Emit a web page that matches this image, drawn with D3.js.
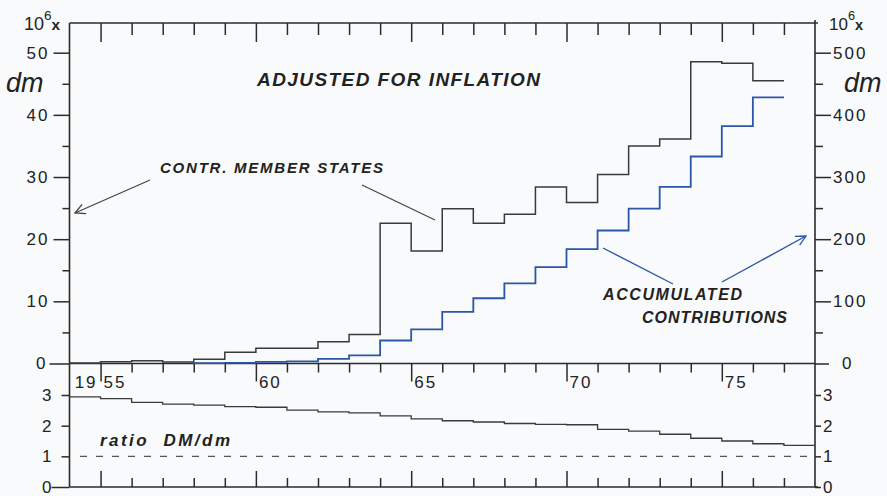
<!DOCTYPE html>
<html><head><meta charset="utf-8">
<script src="https://cdn.jsdelivr.net/npm/d3@7"></script>
<style>
html,body{margin:0;padding:0;background:#f9fafb;}
svg{display:block;font-family:"Liberation Sans",Arial,Helvetica,sans-serif;}
</style>
</head><body>
<svg id="chart" width="887" height="496"></svg>
<script>
// ---------------- DATA ----------------
// Contributions of member states (10^6 dm, left scale), step per year
const contrYears = [1954,1955,1956,1957,1958,1959,1960,1961,1962,1963,1964,1965,1966,1967,1968,1969,1970,1971,1972,1973,1974,1975,1976];
const contributions = [0.1,0.3,0.45,0.25,0.7,1.8,2.45,2.45,3.5,4.65,22.55,18.1,24.9,22.55,24.0,28.4,25.9,30.4,35.0,36.1,48.55,48.3,45.5];
// Accumulated contributions (10^6 dm, right scale)
const accumYears = [1958,1959,1960,1961,1962,1963,1964,1965,1966,1967,1968,1969,1970,1971,1972,1973,1974,1975,1976];
const accumulated = [0.5,1,2.5,3.5,7.5,13,37,55,83,105,129,155,184,214,249,284,333,382,428];
// Ratio DM/dm (bottom panel)
const ratioYears = [1954,1955,1956,1957,1958,1959,1960,1961,1962,1963,1964,1965,1966,1967,1968,1969,1970,1971,1972,1973,1974,1975,1976,1977];
const ratio = [2.94,2.88,2.76,2.70,2.67,2.62,2.60,2.51,2.45,2.42,2.32,2.22,2.16,2.12,2.07,2.04,2.03,1.88,1.82,1.72,1.59,1.50,1.41,1.36];
// Ticks and labels
const leftMajor = [0,10,20,30,40,50];
const leftMinor = [5,15,25,35,45];
const rightMajor = [0,100,200,300,400,500];
const rightMinor = [50,150,250,350,450];
const ratioTickVals = [0,1,2,3];
const yearTicks = [1955,1956,1957,1958,1959,1960,1961,1962,1963,1964,1965,1966,1967,1968,1969,1970,1971,1972,1973,1974,1975,1976,1977];
const yearMajor = [1955,1960,1965,1970,1975];
const yearLabels = ["55","60","65","70","75"];
const refLine = [1];

// ---------------- LAYOUT ----------------
const svg = d3.select("#chart");
const X0 = 69.5, X1 = 815, TOP = 23, ZERO = 363.5, BOT = 487;
const INK = "#2b2b2b", LINE = "#3a3a3a", BLUE = "#2a57a8";

const x = d3.scaleLinear().domain([1954, 1978]).range([X0, X1]);
const yL = d3.scaleLinear().domain([0, 50]).range([ZERO, 52.7]);
const yR = d3.scaleLinear().domain([0, 500]).range([ZERO, 52.7]);
const yB = d3.scaleLinear().domain([0, 3]).range([BOT, 395]);

svg.append("rect").attr("width",887).attr("height",496).attr("fill","#f9fafb");

const defs = svg.append("defs");
function marker(id, color){
  defs.append("marker").attr("id", id).attr("viewBox","0 0 12 12").attr("refX",11).attr("refY",6)
    .attr("markerWidth",12).attr("markerHeight",12).attr("markerUnits","userSpaceOnUse").attr("orient","auto")
    .append("path").attr("d","M1,1 L11,6 L1,11").attr("fill","none").attr("stroke",color).attr("stroke-width",1.3);
}
marker("arrBlack", "#444");
marker("arrBlue", BLUE);

// frame lines
const frame = svg.append("g").attr("stroke", INK).attr("stroke-width", 1.6).attr("fill","none");
frame.append("line").attr("x1",X0).attr("x2",X1+3).attr("y1",TOP).attr("y2",TOP);
frame.append("line").attr("x1",X0).attr("x2",X0).attr("y1",TOP).attr("y2",BOT);
frame.append("line").attr("x1",X1).attr("x2",X1).attr("y1",TOP-3).attr("y2",BOT);
frame.append("line").attr("x1",X0).attr("x2",X1+3).attr("y1",BOT).attr("y2",BOT);

function styleAxis(g, fs){
  g.select(".domain").remove();
  g.selectAll(".tick line").attr("stroke", INK).attr("stroke-width", 1.5);
  g.selectAll(".tick text").attr("fill", "#222").attr("font-size", fs).attr("letter-spacing", "2px")
    .attr("font-family", "'Liberation Sans', Arial, sans-serif");
}
const fmtInt = d3.format("d");

// left upper axis
let g = svg.append("g").attr("transform", `translate(${X0},0)`)
  .call(d3.axisLeft(yL).tickValues(leftMajor).tickSize(16).tickPadding(4).tickFormat(fmtInt));
styleAxis(g, 17);
g.selectAll(".tick").filter(d => d === 0).select("line").attr("x2", -20);
g.selectAll(".tick").filter(d => d === 0).select("text").attr("x", -22);
g = svg.append("g").attr("transform", `translate(${X0},0)`)
  .call(d3.axisLeft(yL).tickValues(leftMinor).tickSize(7).tickFormat(""));
styleAxis(g, 17);

// right upper axis
g = svg.append("g").attr("transform", `translate(${X1},0)`)
  .call(d3.axisRight(yR).tickValues(rightMajor).tickSize(16).tickPadding(2).tickFormat(fmtInt));
styleAxis(g, 17);
g.selectAll(".tick").filter(d => d === 0).select("line").attr("x2", 14);
g.selectAll(".tick").filter(d => d === 0).select("text").attr("x", 27);
g = svg.append("g").attr("transform", `translate(${X1},0)`)
  .call(d3.axisRight(yR).tickValues(rightMinor).tickSize(8).tickFormat(""));
styleAxis(g, 17);

// bottom panel y axes
g = svg.append("g").attr("transform", `translate(${X0},0)`)
  .call(d3.axisLeft(yB).tickValues(ratioTickVals).tickSize(8).tickPadding(8).tickFormat(fmtInt));
styleAxis(g, 17);
g.selectAll(".tick").filter(d => d === 0).select("line").attr("x2", -18);
g = svg.append("g").attr("transform", `translate(${X1},0)`)
  .call(d3.axisRight(yB).tickValues(ratioTickVals).tickSize(6).tickPadding(2).tickFormat(fmtInt));
styleAxis(g, 17);

// zero line of the upper panel
svg.append("line").attr("x1",X0).attr("x2",X1).attr("y1",ZERO).attr("y2",ZERO)
  .attr("stroke",INK).attr("stroke-width",1.6);

// year ticks
function yearAxis(y, axisFn, minorLen, majorLen){
  const gg = svg.append("g").attr("transform", `translate(0,${y})`)
    .call(axisFn(x).tickValues(yearTicks).tickSize(minorLen).tickFormat(""));
  styleAxis(gg, 17);
  gg.selectAll(".tick").filter(d => yearMajor.includes(d)).select("line")
    .attr("y2", axisFn === d3.axisTop ? -majorLen : majorLen);
}
yearAxis(TOP, d3.axisBottom, 12, 19);
yearAxis(ZERO, d3.axisBottom, 9, 18);
yearAxis(BOT, d3.axisTop, 9, 16);

// year labels
const lab = svg.append("g").attr("fill","#222").attr("font-size",17).attr("letter-spacing","2px");
yearMajor.forEach((yr, i) => {
  lab.append("text").attr("x", x(yr) + 3).attr("y", 388).text(yearLabels[i]);
});
lab.append("text").attr("x", x(1955) - 3).attr("y", 388).attr("text-anchor","end").text("19");

// dashed ratio = 1 line
svg.append("g").selectAll("line").data(refLine).join("line")
  .attr("x1", 80).attr("x2", X1).attr("y1", d => yB(d)).attr("y2", d => yB(d))
  .attr("stroke", "#555").attr("stroke-width", 1.1).attr("stroke-dasharray", "7,9");

// step lines
function stepData(ys, vs){
  const pts = ys.map((yr, i) => ({yr, v: vs[i]}));
  pts.push({yr: ys[ys.length-1] + 1, v: vs[vs.length-1]});
  return pts;
}
const stepL = d3.line().curve(d3.curveStepAfter).x(d => x(d.yr)).y(d => yL(d.v));
const stepR = d3.line().curve(d3.curveStepAfter).x(d => x(d.yr)).y(d => yR(d.v));
const stepB = d3.line().curve(d3.curveStepAfter).x(d => x(d.yr)).y(d => yB(d.v));

svg.append("path").attr("d", stepR(stepData(accumYears, accumulated)))
  .attr("fill","none").attr("stroke",BLUE).attr("stroke-width",1.8);
svg.append("path").attr("d", stepL(stepData(contrYears, contributions)))
  .attr("fill","none").attr("stroke",LINE).attr("stroke-width",1.5);
svg.append("path").attr("d", stepB(stepData(ratioYears, ratio)))
  .attr("fill","none").attr("stroke",LINE).attr("stroke-width",1.3);

// ---------------- TEXT ----------------
const ann = svg.append("g").attr("fill","#222").attr("font-style","italic").attr("font-weight","bold");
ann.append("text").attr("x",257).attr("y",86).attr("font-size",19)
  .attr("textLength",283).attr("lengthAdjust","spacing").text("ADJUSTED FOR INFLATION");
ann.append("text").attr("x",160).attr("y",173).attr("font-size",15)
  .attr("textLength",223).attr("lengthAdjust","spacing").text("CONTR. MEMBER STATES");
ann.append("text").attr("x",603).attr("y",300).attr("font-size",16)
  .attr("textLength",139).attr("lengthAdjust","spacing").text("ACCUMULATED");
ann.append("text").attr("x",642).attr("y",323).attr("font-size",16)
  .attr("textLength",145).attr("lengthAdjust","spacing").text("CONTRIBUTIONS");
ann.append("text").attr("x",100).attr("y",446).attr("font-size",17).attr("font-weight","bold")
  .attr("textLength",130).attr("lengthAdjust","spacing").text("ratio\u00a0\u00a0DM/dm");

// units
const units = svg.append("g").attr("fill","#222");
units.append("text").attr("x",6).attr("y",92).attr("font-size",27).attr("font-style","italic").text("dm");
units.append("text").attr("x",844).attr("y",92).attr("font-size",27).attr("font-style","italic").text("dm");
function tenSix(xp, fs){
  const t = units.append("text").attr("x", xp).attr("y", 30).attr("font-size", fs);
  t.append("tspan").text("10");
  t.append("tspan").attr("dy", -10).attr("font-size", fs*0.75).text("6");
  t.append("tspan").attr("dy", 10).attr("font-weight","bold").attr("font-size", fs*0.85).text("x");
}
tenSix(24, 18);
tenSix(829, 17);

// annotation lines / arrows
const arr = svg.append("g").attr("fill","none");
arr.append("line").attr("x1",150).attr("y1",180).attr("x2",75).attr("y2",213)
  .attr("stroke","#444").attr("stroke-width",1.2).attr("marker-end","url(#arrBlack)");
arr.append("line").attr("x1",362).attr("y1",185).attr("x2",435).attr("y2",220)
  .attr("stroke","#444").attr("stroke-width",1.2);
arr.append("line").attr("x1",603).attr("y1",248).attr("x2",673).attr("y2",284)
  .attr("stroke",BLUE).attr("stroke-width",1.4);
arr.append("line").attr("x1",722).attr("y1",282).attr("x2",806).attr("y2",236)
  .attr("stroke",BLUE).attr("stroke-width",1.4).attr("marker-end","url(#arrBlue)");
</script>
</body></html>
